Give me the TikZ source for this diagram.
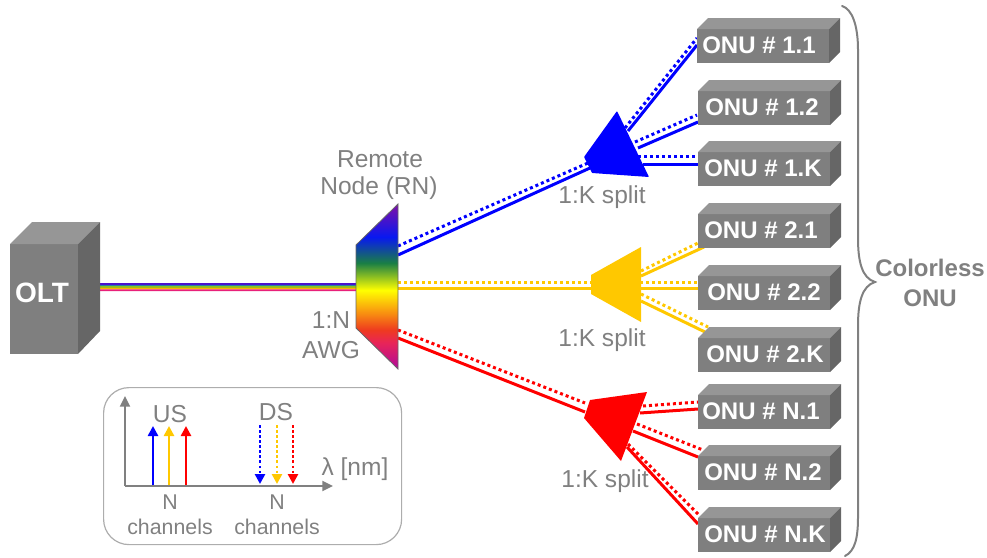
\documentclass[tikz,border=0pt]{standalone}
\usepackage{fontspec}
\setmainfont{Liberation Sans}
\usetikzlibrary{calc,arrows.meta,backgrounds}
\definecolor{txtgray}{HTML}{808080}
\definecolor{frontgray}{HTML}{7F7F7F}
\definecolor{topgray}{HTML}{969696}
\definecolor{sidegray}{HTML}{666666}
\definecolor{fibyellow}{HTML}{FFC800}
\definecolor{awgA}{HTML}{B00A9C}
\definecolor{awgB}{HTML}{E82458}
\definecolor{awgC}{HTML}{EE3A20}
\definecolor{awgD}{HTML}{F89010}
\definecolor{awgE}{HTML}{FFFF00}
\definecolor{awgF}{HTML}{1A7F45}
\definecolor{awgG}{HTML}{0818F0}
\definecolor{awgH}{HTML}{8010A8}
\pgfdeclareverticalshading{awgshade}{100bp}{
  color(0bp)=(awgA);
  color(25bp)=(awgA);
  color(33bp)=(awgB);
  color(36.8bp)=(awgC);
  color(42bp)=(awgD);
  color(48.9bp)=(awgE);
  color(57.1bp)=(awgF);
  color(65bp)=(awgG);
  color(75bp)=(awgH);
  color(100bp)=(awgH)}
\tikzset{
  x=0.75pt,y=-0.75pt,
  graytext/.style={text=txtgray,font=\fontsize{18.4}{22}\selectfont,inner sep=0pt},
  smalltext/.style={text=txtgray,font=\fontsize{16}{20}\selectfont,inner sep=0pt},
  onutext/.style={text=white,font=\bfseries\fontsize{18}{22}\selectfont,inner sep=0pt,anchor=west},
  onufront/.style={fill=frontgray,minimum width=99pt,minimum height=25.5pt,inner sep=0pt,outer sep=0pt,anchor=north west},
  solidfib/.style={line width=2.25pt},
  dotfib/.style={line width=2.25pt,dash pattern=on 2.25pt off 2.25pt},
  axisline/.style={draw=txtgray,line width=1.6pt,-{Triangle[length=8pt,width=7.5pt]}},
  usarrow/.style={line width=1.9pt,-{Triangle[length=7.5pt,width=7.5pt]}},
  dsarrow/.style={line width=1.9pt,dash pattern=on 1.9pt off 1.9pt,-{Triangle[length=7.5pt,width=7.5pt]}},
}
\newcommand{\onuunit}[5]{% name, x, y, label, label x offset
  \node[onufront] (#1) at (#2,#3) {};
  \fill[topgray] (#1.north west) -- ++(11,-11) -- ++(132,0) -- (#1.north east) -- cycle;
  \fill[sidegray] (#1.north east) -- ++(11,-11) -- ++(0,34) -- (#1.south east) -- cycle;
  \node[onutext] (#1t) at ($(#1.west)+(#5,-1)$) {#4};
}
\newcommand{\fiberpair}[5]{% colour, dotted start, dotted end, solid start, solid end
  \draw[#1,dotfib] #2 -- #3;
  \draw[#1,solidfib] #4 -- #5;
}
\begin{document}
\begin{tikzpicture}
\useasboundingbox (0,0) rectangle (987,557);
\coordinate (awg) at (377,287);
\coordinate (sp1) at (620,150);
\coordinate (sp2) at (620,285);
\coordinate (sp3) at (615,420);

% OLT
\node[fill=frontgray,minimum width=51pt,minimum height=82.5pt,inner sep=0pt,outer sep=0pt,anchor=north west] (olt) at (10,244) {};
\fill[topgray] (olt.north west) -- ++(22,-22) -- ++(68,0) -- (olt.north east) -- cycle;
\fill[sidegray] (olt.north east) -- ++(22,-22) -- ++(0,109) -- (olt.south east) -- cycle;
\node[text=white,font=\bfseries\fontsize{21}{24}\selectfont,inner sep=0pt] (oltt) at (42,293) {OLT};

% ONUs
\onuunit{o11}{697}{29}{ONU \# 1.1}{5}
\onuunit{o12}{698}{91}{ONU \# 1.2}{7}
\onuunit{o1k}{698}{152}{ONU \# 1.K}{6}
\onuunit{o21}{698}{214}{ONU \# 2.1}{6}
\onuunit{o22}{698}{276}{ONU \# 2.2}{9}
\onuunit{o2k}{698}{338}{ONU \# 2.K}{8}
\onuunit{o31}{698}{395}{ONU \# N.1}{4}
\onuunit{o32}{698}{456}{ONU \# N.2}{6}
\onuunit{o3k}{698}{518}{ONU \# N.K}{6}

% fibres, under everything else
\begin{scope}[on background layer]
\foreach \yy/\cc in {-3.2/4A10D0,-1.6/2A7FA0,0/8FC020,1.6/FFB000,3.2/E8207A}{
  \definecolor{stripe}{HTML}{\cc}
  \draw[stripe,line width=1.25pt] ($(olt.east)+(22,\yy-12)$) -- ($(awg)+(0,\yy)$);
}
\fiberpair{blue}{($(awg)+(21,-41)$)}{($(sp1)+(-32,13)$)}{($(awg)+(21,-32)$)}{($(sp1)+(-30,18)$)}
\fiberpair{fibyellow}{($(awg)+(21,-5)$)}{($(sp2)+(-29,-3)$)}{($(awg)+(21,1)$)}{($(sp2)+(-29,3)$)}
\fiberpair{red}{($(awg)+(21,43)$)}{($(sp3)+(-30,-17)$)}{($(awg)+(21,51)$)}{($(sp3)+(-30,-8)$)}
\fiberpair{blue}{($(sp1)+(5,-22)$)}{($(o11.north west)+(0,9)$)}{($(sp1)+(8,-19)$)}{($(o11.north west)+(0,16)$)}
\fiberpair{blue}{($(sp1)+(15,-8)$)}{($(o12.north west)+(-1,24)$)}{($(sp1)+(18,-2)$)}{($(o12.north west)+(0,31)$)}
\fiberpair{blue}{($(sp1)+(18,6)$)}{($(o1k.north west)+(0,4)$)}{($(sp1)+(23,14)$)}{($(o1k.north west)+(0,12)$)}
\fiberpair{fibyellow}{($(sp2)+(21,-14)$)}{($(o21.north west)+(0,29)$)}{($(sp2)+(21,-9)$)}{($(o21.north west)+(6,33)$)}
\fiberpair{fibyellow}{($(sp2)+(20,-3)$)}{($(o22.north west)+(0,6)$)}{($(sp2)+(20,3)$)}{($(o22.north west)+(0,12)$)}
\fiberpair{fibyellow}{($(sp2)+(21,9)$)}{($(o2k.north west)+(10,-11)$)}{($(sp2)+(21,16)$)}{($(o2k.north west)+(7,-6)$)}
\fiberpair{red}{($(sp3)+(28,-14)$)}{($(o31.north west)+(0,7)$)}{($(sp3)+(25,-7)$)}{($(o31.north west)+(0,14)$)}
\fiberpair{red}{($(sp3)+(22,4)$)}{($(o32.north west)+(5,-6)$)}{($(sp3)+(18,11)$)}{($(o32.north west)+(0,1)$)}
\fiberpair{red}{($(sp3)+(13,24)$)}{($(o3k.north west)+(1,-3)$)}{($(sp3)+(12,27)$)}{($(o3k.north west)+(0,6)$)}
\end{scope}

% splitters
\fill[blue,rounded corners=0.5pt] (617,111) -- (584,157) -- (592,173) -- (649,177) -- cycle;
\fill[fibyellow] (591,275) -- (641,247) -- (641,322) -- (591,294) -- cycle;
\fill[red] (590,400) -- (647,392) -- (621,461) -- (584,418) -- cycle;

% AWG
\shade[shading=awgshade] (356,245) -- (398,204) -- (398,369) -- (356,328) -- cycle;
\draw[black!60,line width=0.6pt] (356,328) -- (356,245) -- (398,204) -- (398,369) -- cycle;

% labels
\node[graytext] (rn1) at (380,159) {Remote};
\node[graytext] (rn2) at (379,188) {Node (RN)};
\node[graytext] (aw1) at (331,320) {1:N};
\node[graytext] (aw2) at (331,350) {AWG};
\node[graytext] (sl1) at (602,197) {1:K split};
\node[graytext] (sl2) at (602,340) {1:K split};
\node[graytext] (sl3) at (605,481) {1:K split};
\node[text=txtgray,font=\bfseries\fontsize{18}{22}\selectfont,inner sep=0pt] (cl1) at (930,268) {Colorless};
\node[text=txtgray,font=\bfseries\fontsize{18}{22}\selectfont,inner sep=0pt] (cl2) at (930,298) {ONU};

% brace
\draw[txtgray,line width=1.5pt,line cap=round]
  (842,6) .. controls (852,9) and (858,25) .. (858,50)
  -- (858,238) .. controls (858,262) and (862,278) .. (875,282)
  .. controls (862,286) and (858,302) .. (858,326)
  -- (858,517) .. controls (858,538) and (855,551) .. (845,556);

% legend
\node[draw=black!32,line width=0.9pt,rounded corners=19pt,minimum width=223.5pt,minimum height=117.75pt,inner sep=0pt,anchor=north west] (legend) at (103,387) {};
\coordinate (orig) at (125,486);
\draw[axisline] (orig) -- ++(0,-90);
\draw[axisline] (orig) -- ++(208,0);
\draw[blue,usarrow] (153,485) -- (153,426);
\draw[fibyellow,usarrow] (169,485) -- (169,426);
\draw[red,usarrow] (186,485) -- (186,426);
\draw[blue,dsarrow] (260,425) -- (260,484);
\draw[fibyellow,dsarrow] (277,425) -- (277,484);
\draw[red,dsarrow] (293,425) -- (293,484);
\node[graytext] (us) at (170,414) {US};
\node[graytext] (ds) at (276,412) {DS};
\node[graytext] (lam) at (355,469) {λ [nm]};
\node[smalltext] (n1) at (170,502) {N};
\node[smalltext] (c1) at (170,527) {channels};
\node[smalltext] (n2) at (277,502) {N};
\node[smalltext] (c2) at (277,527) {channels};
\end{tikzpicture}
\end{document}
